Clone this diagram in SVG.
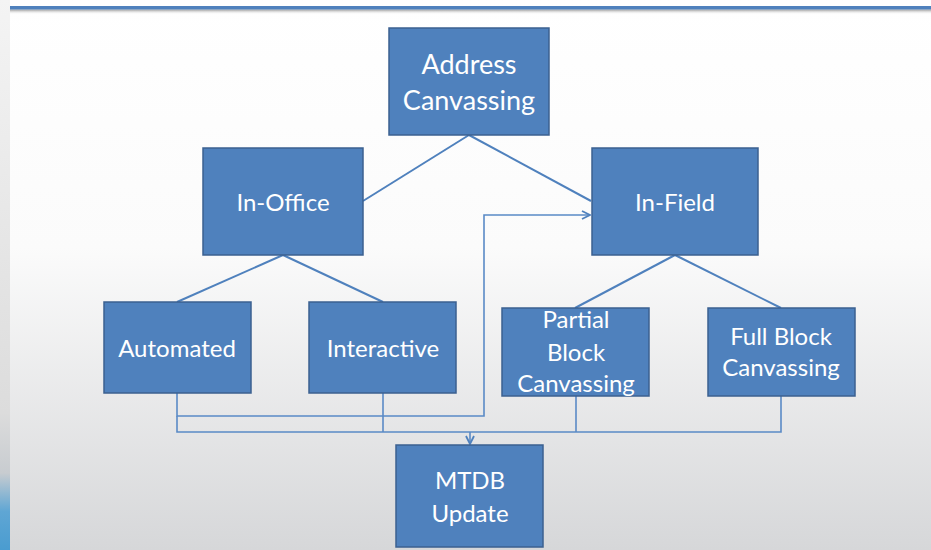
<svg xmlns="http://www.w3.org/2000/svg" width="931" height="550" viewBox="0 0 931 550">
<defs>
<linearGradient id="bg" x1="0" y1="0" x2="0" y2="1">
<stop offset="0" stop-color="#ffffff"/>
<stop offset="0.45" stop-color="#fbfbfb"/>
<stop offset="1" stop-color="#d6d7d9"/>
</linearGradient>
<linearGradient id="strip" x1="0" y1="0" x2="0" y2="1">
<stop offset="0" stop-color="#f4f4f4"/>
<stop offset="0.75" stop-color="#dcdcdc"/>
<stop offset="0.86" stop-color="#c8ccd0"/>
<stop offset="0.93" stop-color="#5fa6d4"/>
<stop offset="1" stop-color="#4a9cd0"/>
</linearGradient>
<linearGradient id="shadow" x1="0" y1="0" x2="0" y2="1">
<stop offset="0" stop-color="#9a9a9a"/>
<stop offset="1" stop-color="#ffffff" stop-opacity="0"/>
</linearGradient>
<marker id="arr" viewBox="0 0 10 10" refX="9" refY="5" markerWidth="10" markerHeight="10" markerUnits="userSpaceOnUse" orient="auto">
<path d="M1,1 L9,5 L1,9" fill="none" stroke="#4F81BD" stroke-width="1.8"/>
</marker>
<style>
.box{fill:#4F81BD;stroke:#3B6090;stroke-width:1.5}
.t{font-family:Lato,"Open Sans",sans-serif;fill:#ffffff;text-anchor:middle;font-size:24px}
.big{font-size:27px}
.c{fill:none;stroke:#4F81BD;stroke-width:2}
.e{fill:none;stroke:#5A8AC6;stroke-width:1.6}
</style>
</defs>
<rect x="0" y="0" width="931" height="550" fill="url(#bg)"/>
<rect x="0" y="0" width="10" height="550" fill="url(#strip)"/>
<rect x="10" y="9.5" width="921" height="5" fill="url(#shadow)"/>
<rect x="10" y="6" width="921" height="3.5" fill="#4F81BD"/>

<g id="connectors">
<line class="c" x1="469" y1="135" x2="363" y2="201"/>
<line class="c" x1="469" y1="135" x2="591" y2="201"/>
<line class="c" x1="283" y1="255" x2="177" y2="302"/>
<line class="c" x1="283" y1="255" x2="383" y2="302"/>
<line class="c" x1="675" y1="255" x2="575" y2="308"/>
<line class="c" x1="675" y1="255" x2="781" y2="308"/>
<polyline class="e" points="177,393 177,416 484,416 484,215 590,215" marker-end="url(#arr)"/>
<polyline class="e" points="177,416 177,432 781,432 781,396"/>
<line class="e" x1="383" y1="393" x2="383" y2="432"/>
<line class="e" x1="576" y1="396" x2="576" y2="432"/>
<line class="e" x1="470" y1="432" x2="470" y2="444" marker-end="url(#arr)"/>
</g>

<g id="address-canvassing">
<rect class="box" x="389" y="28" width="160" height="107"/>
<text class="t big" x="469" y="74">Address</text>
<text class="t big" x="469" y="110">Canvassing</text>
</g>
<g id="in-office">
<rect class="box" x="203" y="148" width="160" height="107"/>
<text class="t" x="283" y="211">In-Office</text>
</g>
<g id="in-field">
<rect class="box" x="592" y="148" width="166" height="107"/>
<text class="t" x="675" y="211">In-Field</text>
</g>
<g id="automated">
<rect class="box" x="104" y="302" width="147" height="91"/>
<text class="t" x="177" y="357">Automated</text>
</g>
<g id="interactive">
<rect class="box" x="309" y="302" width="147" height="91"/>
<text class="t" x="383" y="357">Interactive</text>
</g>
<g id="partial-block-canvassing">
<rect class="box" x="502" y="308" width="147" height="88"/>
<text class="t" x="576" y="328">Partial</text>
<text class="t" x="576" y="361">Block</text>
<text class="t" x="576" y="392">Canvassing</text>
</g>
<g id="full-block-canvassing">
<rect class="box" x="708" y="308" width="147" height="88"/>
<text class="t" x="781" y="345">Full Block</text>
<text class="t" x="781" y="376">Canvassing</text>
</g>
<g id="mtdb-update">
<rect class="box" x="396" y="445" width="147" height="102"/>
<text class="t" x="470" y="489">MTDB</text>
<text class="t" x="470" y="522">Update</text>
</g>
</svg>
